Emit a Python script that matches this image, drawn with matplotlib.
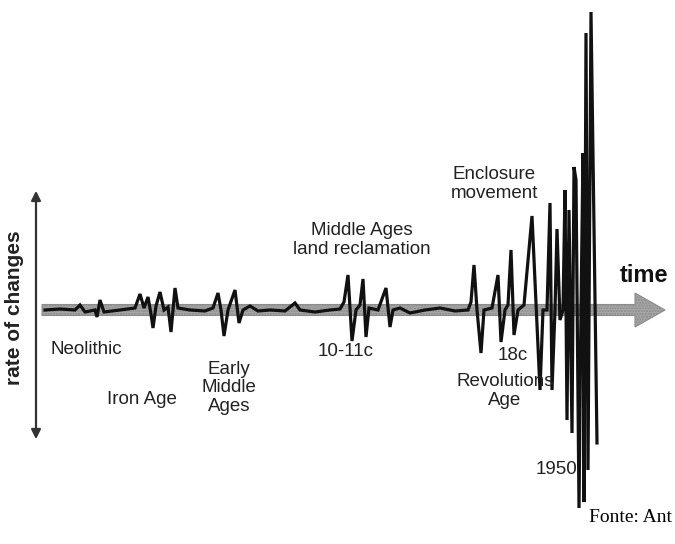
import matplotlib
matplotlib.use("Agg")
from matplotlib import pyplot as plt
import matplotlib.patches as patches

# time position (left to right) and rate of change (+ up, - down) of the trace
time_pos = [45, 60, 75, 80, 85, 95, 97, 100, 104, 120, 135, 140, 144, 148, 151, 153,
            156, 160, 164, 168, 171, 175, 178, 190, 205, 213, 218, 221, 224, 228,
            235, 239, 243, 250, 258, 270, 285, 295, 300, 315, 330, 340, 344, 348,
            352, 356, 360, 363, 366, 369, 378, 386, 390, 393, 400, 410, 425, 440,
            455, 468, 471, 474, 477, 481, 484, 492, 498, 501, 505, 508, 511, 514,
            518, 524, 532, 540, 543, 547, 550, 552, 555, 557, 560, 563, 565, 567,
            569, 572, 574, 576, 579, 581, 583, 584, 586, 588, 591, 597]
rate = [0, 1, 0, 5, -2, 0, -7, 10, -2, 0, 2, 16, 2, 13, -4, -18,
        4, 18, 0, 3, -22, 22, 2, 0, -1, 2, 17, 0, -26, 0,
        20, -13, 0, 4, -1, 0, -1, 7, 0, -2, 0, 1, 8, 35,
        -31, 0, 5, 31, -27, 2, 0, 22, -17, 0, 2, -3, 0, 2,
        -1, 0, 8, 45, 0, -43, 0, 2, 35, -32, 0, 5, 60, -25,
        0, 5, 94, -80, 0, 0, 107, -80, 0, 81, -10, 0, 120, -110,
        100, -123, 143, 130, -198, 0, 157, -192, 277, -160, 298, -133]

labels = ["Neolithic", "Iron Age", "Early\nMiddle\nAges", "10-11c",
          "Middle Ages\nland reclamation", "Enclosure\nmovement", "18c",
          "Revolutions\nAge", "1950"]
label_x = [50, 107, 229, 318, 362, 494, 498, 505, 536]
label_y = [-40, -89, -78, -42, 70, 126, -45, -81, -160]
label_ha = ["left", "left", "center", "left", "center", "center", "left", "center", "left"]

fig = plt.figure(figsize=(6.75, 5.44), dpi=100)
ax = fig.add_axes([0, 0, 1, 1])
ax.set_xlim(0, 675)
ax.set_ylim(-234, 310)
ax.axis("off")

# grey time arrow
arrow = patches.FancyArrow(42, 0, 623, 0, width=11, head_width=34, head_length=30,
                           length_includes_head=True, facecolor="#a6a6a6",
                           edgecolor="#8c8c8c", lw=0.8, hatch="......", zorder=1)
ax.add_patch(arrow)

# the trace
ax.plot(time_pos, rate, color="#111111", lw=2.3, solid_joinstyle="miter", zorder=2)

# vertical double arrow
ax.annotate("", xy=(36, 122), xytext=(36, -132),
            arrowprops=dict(arrowstyle="<|-|>", color="#333333", lw=1.6,
                            mutation_scale=14))
ax.text(15, 2, "rate of changes", rotation=90, ha="center", va="center",
        fontsize=15, fontweight="bold", family="Liberation Sans", color="#222222")

ax.text(620, 35, "time", ha="left", va="center", fontsize=17, fontweight="bold",
        family="Liberation Sans", color="#111111")

for txt, x, y, ha in zip(labels, label_x, label_y, label_ha):
    ax.text(x, y, txt, ha=ha, va="center", fontsize=13.5, family="Liberation Sans",
            color="#222222", linespacing=1.15)

ax.text(672, -208, "Fonte: Ant", ha="right", va="center", fontsize=14,
        family="Liberation Serif", color="#000000")

fig.savefig("out.png", dpi=100)
